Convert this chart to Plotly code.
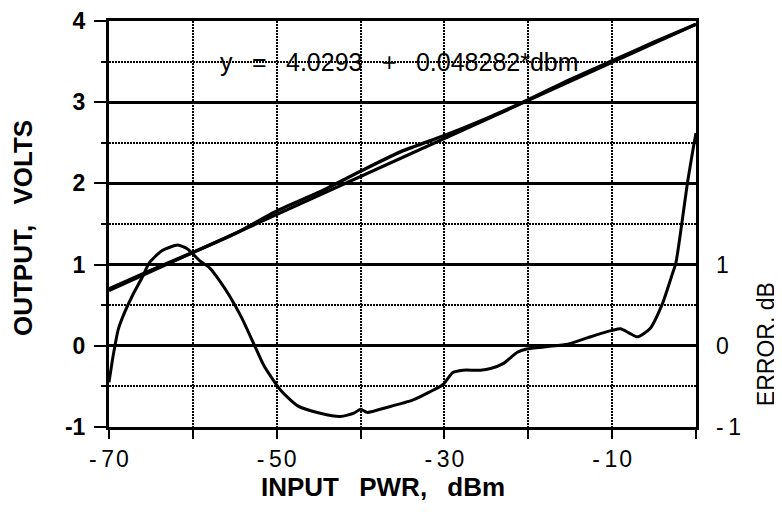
import plotly.graph_objects as go

# ---- data ----
out_x = [-70, -65, -60, -55, -50, -45, -40, -35, -30, -25, -20, -15, -10, -5, 0]
out_y = [0.70, 0.93, 1.15, 1.38, 1.66, 1.89, 2.15, 2.40, 2.59, 2.80, 3.03, 3.28, 3.51, 3.74, 3.96]

fit_x = [-70, 0]
fit_y = [0.68, 3.96]

err_x = [-70, -69.5, -68.9, -68.1, -67.2, -66.0, -65.2, -63.7, -61.8, -60.6, -59.2, -58.0,
         -56.8, -55.6, -54.2, -52.8, -51.5, -49.5, -47.5, -44.8, -42.4, -40.8, -40.0, -39.2,
         -36.9, -33.8, -31.8, -30.2, -29.0, -27.8, -25.7, -24.5, -23.0, -21.3, -20.2, -17.7,
         -15.3, -12.9, -11.4, -10.0, -9.0, -8.0, -7.0, -5.5, -4.0, -2.9, -2.4, -1.7, -1.0,
         -0.3, 0.0]
err_y = [-0.45, -0.12, 0.20, 0.42, 0.62, 0.85, 1.02, 1.17, 1.24, 1.19, 1.05, 0.96,
         0.80, 0.61, 0.35, 0.04, -0.25, -0.55, -0.74, -0.83, -0.87, -0.83, -0.78, -0.82,
         -0.76, -0.67, -0.57, -0.48, -0.33, -0.30, -0.30, -0.28, -0.22, -0.08, -0.04, -0.01,
         0.02, 0.10, 0.15, 0.19, 0.21, 0.16, 0.11, 0.21, 0.52, 0.86, 1.02, 1.5, 2.02,
         2.45, 2.62]

x_tickvals = [-70, -60, -50, -40, -30, -20, -10, 0]
x_ticktext = ["-\u20097\u200a0", "", "-\u20095\u200a0", "", "-\u20093\u200a0", "", "-\u20091\u200a0", ""]
y_tickvals = [-1, 0, 1, 2, 3, 4]
y_ticktext = ["-1", "0", "1", "2", "3", "4"]
err_tickvals = [-1, 0, 1]
err_ticktext = ["-\u20091", "0", "1"]

equation = "y\u2002 =\u2002 4.0293\u2002 +\u2002 0.048282*dbm"

FONT = "Liberation Sans, Arial, sans-serif"
DOT = "2px,1px"

fig = go.Figure()
fig.add_trace(go.Scatter(x=fit_x, y=fit_y, mode="lines",
                         line=dict(color="black", width=3.2), showlegend=False))
fig.add_trace(go.Scatter(x=out_x, y=out_y, mode="lines",
                         line=dict(color="black", width=3.4, shape="spline", smoothing=0.6),
                         showlegend=False))
fig.add_trace(go.Scatter(x=err_x, y=err_y, mode="lines",
                         line=dict(color="black", width=3, shape="spline", smoothing=0.6),
                         showlegend=False))
# invisible trace to activate the right axis
fig.add_trace(go.Scatter(x=[-70], y=[0], yaxis="y2", mode="markers",
                         marker=dict(opacity=0), showlegend=False, hoverinfo="skip"))

fig.update_layout(
    width=774, height=496,
    margin=dict(l=101, r=86, t=13, b=77, autoexpand=False),
    paper_bgcolor="white", plot_bgcolor="white",
    font=dict(family=FONT, color="black"),
    xaxis=dict(range=[-70, 0], tickvals=x_tickvals, ticktext=x_ticktext, automargin=False,
               ticks="outside", ticklen=9, tickwidth=2, tickcolor="black",
               tickfont=dict(size=23, family=FONT),
               showgrid=True, gridcolor="black", gridwidth=1.8, griddash=DOT,
               showline=True, linecolor="black", linewidth=3, mirror=True,
               zeroline=False),
    yaxis=dict(range=[-1, 4], tickvals=y_tickvals, ticktext=y_ticktext, automargin=False,
               ticks="outside", ticklen=12, tickwidth=2, tickcolor="black",
               tickfont=dict(size=23, family=FONT, weight="bold"),
               ticklabelstandoff=4,
               showgrid=True, gridcolor="black", gridwidth=2.6,
               minor=dict(dtick=0.5, tick0=0, ticks="outside", ticklen=5, tickwidth=2,
                          tickcolor="black", showgrid=True, gridcolor="black",
                          gridwidth=2, griddash=DOT),
               showline=True, linecolor="black", linewidth=3, mirror=True,
               zeroline=False),
    yaxis2=dict(range=[-1, 4], overlaying="y", side="right", automargin=False,
                tickvals=err_tickvals, ticktext=err_ticktext,
                ticks="", tickfont=dict(size=23, family=FONT),
                ticklabelstandoff=19,
                showgrid=False, zeroline=False, showline=False),
    annotations=[
        dict(text="OUTPUT,\u2002 VOLTS", xref="paper", yref="paper", x=0, y=0.49,
             xshift=-86, textangle=-90, showarrow=False,
             font=dict(size=26, family=FONT, weight="bold"),
             xanchor="center", yanchor="middle"),
        dict(text="INPUT\u2002 PWR,\u2002 dBm", xref="paper", yref="paper", x=0.467, y=0,
             yshift=-60, showarrow=False, borderpad=0,
             font=dict(size=26, family=FONT, weight="bold"),
             xanchor="center", yanchor="middle"),
        dict(text="ERROR, dB", xref="paper", yref="paper", x=1, y=0.204,
             xshift=70, textangle=-90, showarrow=False,
             font=dict(size=23, family=FONT),
             xanchor="center", yanchor="middle"),
        dict(text=equation, xref="x", yref="y", x=-35.4, y=3.5, showarrow=False,
             font=dict(size=25, family=FONT), xanchor="center", yanchor="middle"),
    ],
)

fig.write_html("out.html")
